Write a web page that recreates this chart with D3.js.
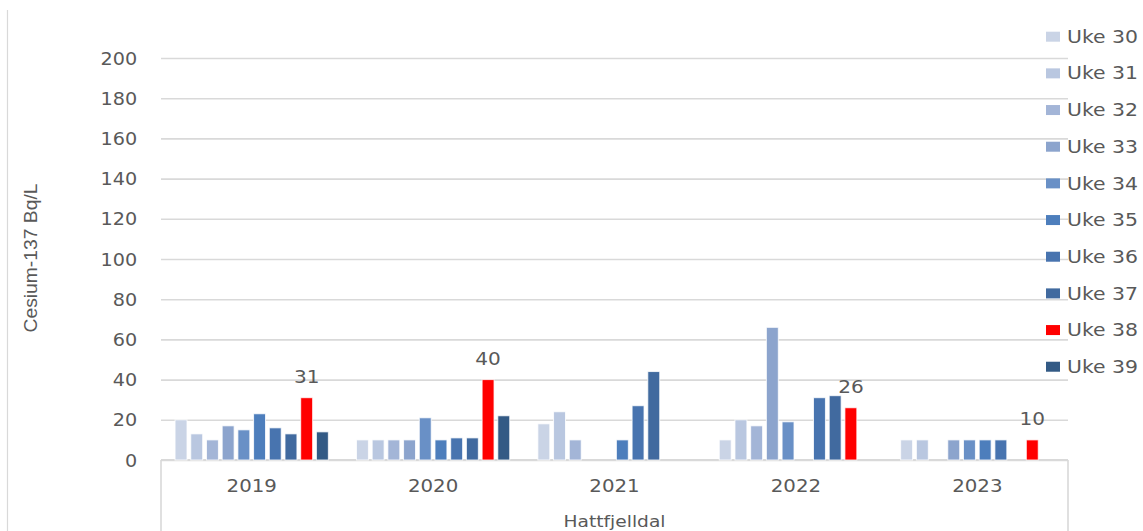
<!DOCTYPE html>
<html>
<head>
<meta charset="utf-8">
<script src="https://cdn.jsdelivr.net/npm/d3@7"></script>
<style>
  body { margin: 0; background: #fff; }
  svg { display: block; }
  text { font-family: "DejaVu Sans", Verdana, sans-serif; fill: #595959; }
</style>
</head>
<body>
<svg id="chart" width="1143" height="531"></svg>
<script>
// Cesium-137 in milk, Hattfjelldal, weeks 30–39 per year (Bq/L)
const years = ["2019", "2020", "2021", "2022", "2023"];
const weeks = ["Uke 30", "Uke 31", "Uke 32", "Uke 33", "Uke 34",
               "Uke 35", "Uke 36", "Uke 37", "Uke 38", "Uke 39"];

// One array per week, one value per year (null = no sample)
const uke30 = [20, 10, 18, 10, 10];
const uke31 = [13, 10, 24, 20, 10];
const uke32 = [10, 10, 10, 17, null];
const uke33 = [17, 10, null, 66, 10];
const uke34 = [15, 21, null, 19, 10];
const uke35 = [23, 10, 10, null, 10];
const uke36 = [16, 11, 27, 31, 10];
const uke37 = [13, 11, 44, 32, null];
const uke38 = [31, 40, null, 26, 10];
const uke39 = [14, 22, null, null, null];

const weekValues = [uke30, uke31, uke32, uke33, uke34, uke35, uke36, uke37, uke38, uke39];
const weekColors = ["#CAD4E6", "#B9C7E0", "#A3B5D7", "#8CA4CD", "#6990C6",
                    "#4D7EBC", "#4874AF", "#416A9F", "#FF0000", "#335A85"];
const labelledWeek = "Uke 38";

const yTickValues = [0, 20, 40, 60, 80, 100, 120, 140, 160, 180, 200];
const yTitle = "Cesium-137 Bq/L";
const xTitle = "Hattfjelldal";

// Layout
const W = 1143, H = 531;
const plotLeft = 161, plotRight = 1068, plotTop = 58, plotBottom = 460;
const SX = 1.13;           // horizontal stretch of the lettering
const gridColor = "#D9D9D9";

const svg = d3.select("#chart");

const x0 = d3.scaleBand().domain(years).range([plotLeft, plotRight]);
const x1 = d3.scaleBand().domain(weeks).range([0, x0.bandwidth()])
  .paddingInner(0.24).paddingOuter(0.895);
const y = d3.scaleLinear().domain([0, 200]).range([plotBottom, plotTop]);

// Outer frame line on the left
svg.append("line")
  .attr("x1", 7.5).attr("x2", 7.5).attr("y1", 10).attr("y2", H)
  .attr("stroke", gridColor).attr("stroke-width", 1.2);

// Horizontal gridlines
const grid = svg.append("g")
  .attr("transform", `translate(${plotLeft},0)`)
  .call(d3.axisLeft(y).tickValues(yTickValues).tickSize(-(plotRight - plotLeft)).tickFormat(""));
grid.select(".domain").remove();
grid.selectAll(".tick line").attr("stroke", gridColor).attr("stroke-width", 1.6);

// Y tick labels
const yAxis = svg.append("g")
  .attr("transform", `translate(${plotLeft},0)`)
  .call(d3.axisLeft(y).tickValues(yTickValues).tickSize(0).tickPadding(0));
yAxis.attr("font-family", null).attr("font-size", null);
yAxis.select(".domain").remove();
yAxis.selectAll(".tick text")
  .attr("x", -21).attr("dy", "0.36em")
  .attr("transform", `scale(${SX},1)`)
  .style("font-size", "17px");

// Category axis frame
svg.append("line")
  .attr("x1", plotLeft).attr("x2", plotRight).attr("y1", plotBottom).attr("y2", plotBottom)
  .attr("stroke", gridColor).attr("stroke-width", 1.8);
[plotLeft, plotRight].forEach(xx => {
  svg.append("line")
    .attr("x1", xx).attr("x2", xx).attr("y1", plotBottom).attr("y2", H)
    .attr("stroke", gridColor).attr("stroke-width", 1.6);
});

// Year labels
const xAxis = svg.append("g")
  .attr("transform", `translate(0,${plotBottom})`)
  .call(d3.axisBottom(x0).tickSize(0).tickPadding(0));
xAxis.attr("font-family", null).attr("font-size", null);
xAxis.select(".domain").remove();
xAxis.selectAll(".tick text")
  .attr("y", 32.5).attr("dy", 0)
  .attr("transform", `scale(${SX},1)`)
  .style("font-size", "17.5px");

// Axis titles
svg.append("text")
  .attr("transform", `translate(${(plotLeft + plotRight) / 2},527) scale(${SX},1)`)
  .attr("text-anchor", "middle")
  .style("font-size", "16.5px")
  .text(xTitle);

svg.append("text")
  .attr("transform", "translate(37,258) rotate(-90)")
  .attr("text-anchor", "middle")
  .attr("textLength", 149).attr("lengthAdjust", "spacingAndGlyphs")
  .style("font-family", "'Liberation Sans', Arial, sans-serif")
  .style("font-size", "18px")
  .text(yTitle);

// Bars
const barData = [];
weeks.forEach((wk, i) => {
  years.forEach((yr, j) => {
    const v = weekValues[i][j];
    if (v != null) barData.push({ week: wk, year: yr, value: v, color: weekColors[i] });
  });
});

svg.append("g").selectAll("rect")
  .data(barData)
  .join("rect")
  .attr("x", d => x0(d.year) + x1(d.week))
  .attr("y", d => y(d.value))
  .attr("width", x1.bandwidth())
  .attr("height", d => y(0) - y(d.value))
  .attr("fill", d => d.color)
  .attr("stroke", "#ffffff")
  .attr("stroke-opacity", 0.8)
  .attr("stroke-width", 1);

// Value labels for week 38
svg.append("g").selectAll("text")
  .data(barData.filter(d => d.week === labelledWeek))
  .join("text")
  .attr("transform", d => `translate(${x0(d.year) + x1(d.week) + x1.bandwidth() / 2},${y(d.value) - 14.5}) scale(${SX + 0.05},1)`)
  .attr("text-anchor", "middle")
  .style("font-size", "17px")
  .text(d => d.value);

// Legend
const legend = svg.append("g").selectAll("g")
  .data(weeks)
  .join("g")
  .attr("transform", (d, i) => `translate(0,${36.7 + i * 36.67})`);
legend.append("rect")
  .attr("x", 1046).attr("y", -5).attr("width", 14).attr("height", 10)
  .attr("fill", (d, i) => weekColors[i]);
legend.append("text")
  .attr("transform", `translate(1067,0) scale(${SX + 0.07},1)`)
  .attr("dy", "0.36em")
  .style("font-size", "17px")
  .text(d => d);
</script>
</body>
</html>
